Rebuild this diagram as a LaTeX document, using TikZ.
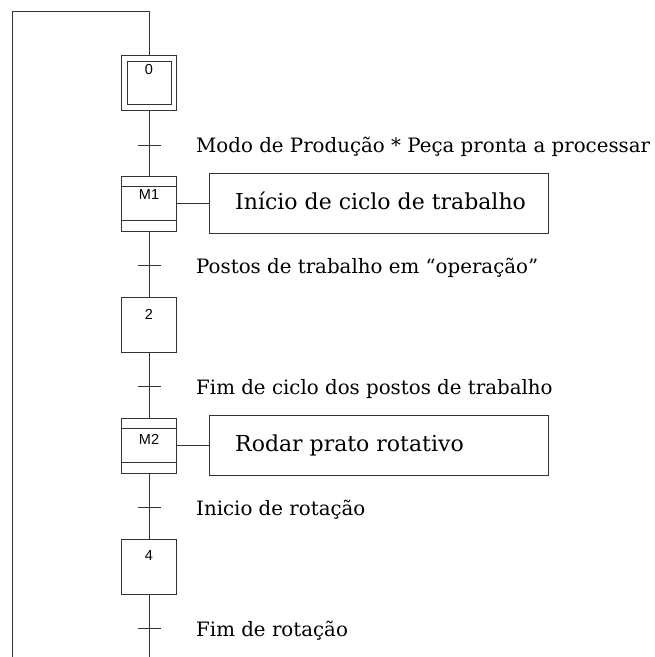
\documentclass[tikz,border=0pt]{standalone}
\usepackage{fontspec}
\newfontfamily\lblfont{DejaVu Serif}
\newfontfamily\stpfont{Liberation Sans}
\definecolor{linec}{HTML}{333333}
\begin{document}
\begin{tikzpicture}[x=1pt,y=-1pt,
  ln/.style={draw=linec, line width=1pt},
  stepbox/.style={draw=linec, line width=1pt, minimum width=55pt, minimum height=55pt, inner sep=0pt, outer sep=0pt},
  innerbox/.style={draw=linec, line width=1pt, minimum width=44pt, minimum height=43pt, inner sep=0pt, outer sep=0pt},
  actbox/.style={draw=linec, line width=1pt, minimum width=339pt, minimum height=60pt, inner sep=0pt, outer sep=0pt},
  steplbl/.style={font=\stpfont\fontsize{14.5}{14.5}\selectfont, inner sep=0pt, anchor=center},
  translbl/.style={font=\lblfont\fontsize{19.8}{19.8}\selectfont, inner sep=0pt, anchor=base west},
  actlbl/.style={font=\lblfont\fontsize{22}{22}\selectfont, inner sep=0pt, anchor=base west}]
\useasboundingbox (0,0) rectangle (655,657);

% steps
\node[stepbox] (s0) at (149,82.5) {};
\node[innerbox] (s0i) at (149,82.5) {};
\node[stepbox] (m1) at (149,203.5) {};
\node[stepbox] (s2) at (149,324.5) {};
\node[stepbox] (m2) at (149,445.5) {};
\node[stepbox] (s4) at (149,566.5) {};

% macro-step bands
\draw[ln] ([yshift=-10.5pt]m1.north west) -- ([yshift=-10.5pt]m1.north east);
\draw[ln] ([yshift=10.5pt]m1.south west) -- ([yshift=10.5pt]m1.south east);
\draw[ln] ([yshift=-10.5pt]m2.north west) -- ([yshift=-10.5pt]m2.north east);
\draw[ln] ([yshift=10.5pt]m2.south west) -- ([yshift=10.5pt]m2.south east);

% step labels
\node[steplbl] (l0) at (149,70) {0};
\node[steplbl] (lm1) at (149,194.5) {M1};
\node[steplbl] (l2) at (149,314.5) {2};
\node[steplbl] (lm2) at (149,439.5) {M2};
\node[steplbl] (l4) at (149,555.5) {4};

% transitions
\coordinate (t1) at (149,145);
\coordinate (t2) at (149,265);
\coordinate (t3) at (149,386);
\coordinate (t4) at (149,507);
\coordinate (t5) at (149,628);
\coordinate (bot) at (149,657);
\coordinate (top) at (149,11);
\coordinate (tl) at (12,11);
\coordinate (bl) at (12,657);

\draw[ln] (s0.south) -- (m1.north);
\draw[ln] (m1.south) -- (s2.north);
\draw[ln] (s2.south) -- (m2.north);
\draw[ln] (m2.south) -- (s4.north);
\draw[ln] (s4.south) -- (bot);
\draw[ln] (s0.north) -- (top) -- (tl) -- (bl);

\foreach \t in {t1,t2,t3,t4,t5}
  \draw[ln] ([xshift=-11.5pt]\t) -- ([xshift=11.5pt]\t);

\node[translbl] (c1) at (196,152) {Modo de Produção * Peça pronta a processar};
\node[translbl] (c2) at (196,273) {Postos de trabalho em “operação”};
\node[translbl] (c3) at (196,394) {Fim de ciclo dos postos de trabalho};
\node[translbl] (c4) at (196,515) {Inicio de rotação};
\node[translbl] (c5) at (196,636) {Fim de rotação};

% actions
\node[actbox] (a1) at (378.5,203.5) {};
\node[actbox] (a2) at (378.5,445.5) {};
\node[actlbl] (a1t) at (235,209.5) {Início de ciclo de trabalho};
\node[actlbl] (a2t) at (235,451) {Rodar prato rotativo};
\draw[ln] (m1.east) -- (a1.west);
\draw[ln] (m2.east) -- (a2.west);
\end{tikzpicture}
\end{document}
